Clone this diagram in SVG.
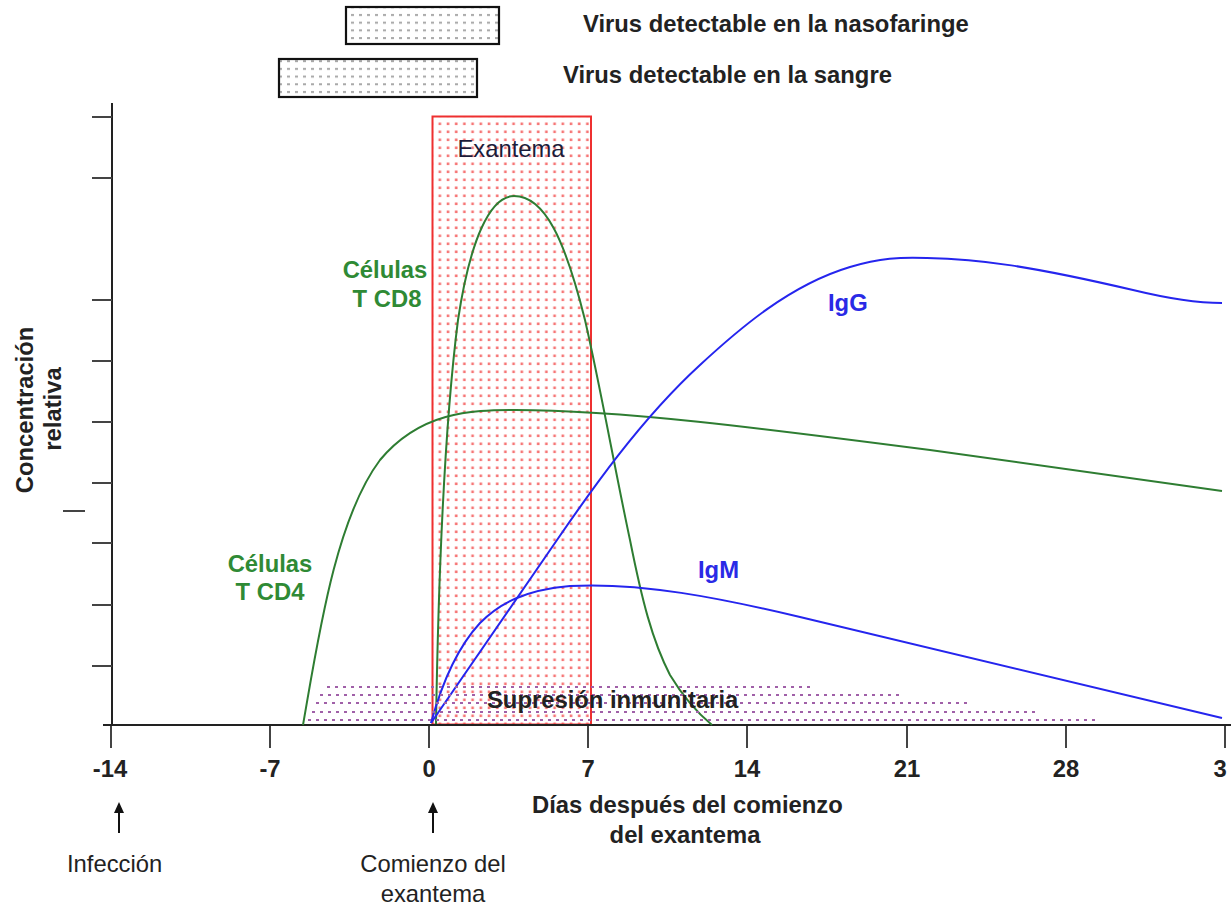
<svg xmlns="http://www.w3.org/2000/svg" width="1231" height="907" viewBox="0 0 1231 907">
<style>
.t{font-family:"Liberation Sans",Arial,sans-serif;font-size:23.8px;fill:#222}
.b{font-weight:bold}
.g{fill:#2f8a35}
.bl{fill:#2a2ae6}
.ax{stroke:#222;stroke-width:2;fill:none}
.tk{stroke:#444;stroke-width:2}
.cg{stroke:#2e7d32;stroke-width:2;fill:none}
.cb{stroke:#2525ee;stroke-width:2;fill:none}
.sup{stroke:#a060a8;stroke-width:2;stroke-dasharray:3 5;fill:none}
.arr{stroke:#111;stroke-width:2}
.ah{fill:#111}
</style>
<defs>
<pattern id="grey" patternUnits="userSpaceOnUse" x="349" y="12" width="8" height="7.7">
<rect x="2" y="2" width="3" height="2" fill="#a8a8a8"/>
</pattern>
<pattern id="red" patternUnits="userSpaceOnUse" x="436" y="120" width="8.2" height="8">
<rect x="2.5" y="2.5" width="2.6" height="2.6" fill="#f24848" fill-opacity="0.75"/>
</pattern>
</defs>
<rect width="1231" height="907" fill="#fff"/>

<g id="nasofaringe">
<rect x="346" y="7" width="153" height="37" fill="url(#grey)" stroke="#111" stroke-width="2.2"/>
<text class="t b" x="583" y="32">Virus detectable en la nasofaringe</text>
</g>
<g id="sangre">
<rect x="279" y="59" width="198" height="38" fill="url(#grey)" stroke="#111" stroke-width="2.2"/>
<text class="t b" x="563" y="83">Virus detectable en la sangre</text>
</g>

<g id="exantema">
<rect x="432.5" y="116.5" width="158.5" height="608" fill="url(#red)" stroke="#ee3030" stroke-width="2"/>
</g>

<g id="axes">
<line class="ax" x1="112" y1="103" x2="112" y2="726"/>
<line class="ax" x1="103" y1="725" x2="1231" y2="725"/>
<line class="tk" x1="92" y1="117" x2="112" y2="117"/>
<line class="tk" x1="92" y1="178" x2="112" y2="178"/>
<line class="tk" x1="92" y1="300" x2="112" y2="300"/>
<line class="tk" x1="92" y1="361" x2="112" y2="361"/>
<line class="tk" x1="92" y1="422" x2="112" y2="422"/>
<line class="tk" x1="92" y1="483" x2="112" y2="483"/>
<line class="tk" x1="92" y1="543" x2="112" y2="543"/>
<line class="tk" x1="92" y1="605" x2="112" y2="605"/>
<line class="tk" x1="92" y1="666" x2="112" y2="666"/>
<line class="tk" x1="63" y1="511" x2="85" y2="511"/>
<line class="tk" x1="111" y1="726" x2="111" y2="748"/>
<line class="tk" x1="270" y1="726" x2="270" y2="748"/>
<line class="tk" x1="429" y1="726" x2="429" y2="748"/>
<line class="tk" x1="588" y1="726" x2="588" y2="748"/>
<line class="tk" x1="747" y1="726" x2="747" y2="748"/>
<line class="tk" x1="907" y1="726" x2="907" y2="748"/>
<line class="tk" x1="1066" y1="726" x2="1066" y2="748"/>
<line class="tk" x1="1225" y1="726" x2="1225" y2="748"/>
</g>

<g id="curves">
<path class="cg" d="M303,725 C318,640 335,520 380,460 C420,412 470,410 515,410 C620,410 760,428 930,450 L1222,491"/>
<path class="cg" d="M436,724 C438,600 444,430 458,320 C470,240 490,196 514,196 C545,196 565,240 585,320 C600,385 615,470 630,540 C642,600 652,640 670,675 C685,700 700,715 712,725"/>
<path class="cb" d="M431,723 L557,540 C590,492 640,420 700,365 C740,328 790,285 850,267 C880,258 900,257 927,258 C980,259 1030,266 1133,290 C1170,299 1200,303 1222,303"/>
<path class="cb" d="M431,723 C440,690 455,650 480,623 C500,603 525,590 570,586 C640,582 720,598 800,617 L1222,718"/>
</g>

<g id="supresion">
<line class="sup" x1="327" y1="687" x2="812" y2="687"/>
<line class="sup" x1="320" y1="695" x2="900" y2="695"/>
<line class="sup" x1="316" y1="703" x2="970" y2="703"/>
<line class="sup" x1="312" y1="712" x2="1035" y2="712"/>
<line class="sup" x1="308" y1="720" x2="1095" y2="720"/>
<text class="t b" x="487" y="708" fill="#1a1a1a">Supresión inmunitaria</text>
</g>

<g id="labels">
<text class="t" x="511" y="157" text-anchor="middle" style="fill:#1c1c3a">Exantema</text>
<text class="t b g" x="385" y="278" text-anchor="middle">Células</text>
<text class="t b g" x="387" y="307" text-anchor="middle">T CD8</text>
<text class="t b g" x="270" y="572" text-anchor="middle">Células</text>
<text class="t b g" x="270" y="600" text-anchor="middle">T CD4</text>
<text class="t b bl" x="828" y="311">IgG</text>
<text class="t b bl" x="698" y="578">IgM</text>
<text class="t b" transform="translate(33,410) rotate(-90)" text-anchor="middle">Concentración</text>
<text class="t b" transform="translate(61,409) rotate(-90)" text-anchor="middle">relativa</text>
</g>

<g id="ticklabels">
<text class="t b" x="110" y="777" text-anchor="middle">-14</text>
<text class="t b" x="270" y="777" text-anchor="middle">-7</text>
<text class="t b" x="429" y="777" text-anchor="middle">0</text>
<text class="t b" x="588" y="777" text-anchor="middle">7</text>
<text class="t b" x="747" y="777" text-anchor="middle">14</text>
<text class="t b" x="907" y="777" text-anchor="middle">21</text>
<text class="t b" x="1066" y="777" text-anchor="middle">28</text>
<text class="t b" x="1220" y="777" text-anchor="middle">3</text>
<text class="t b" x="532" y="813">Días después del comienzo</text>
<text class="t b" x="685" y="843" text-anchor="middle">del exantema</text>
</g>

<g id="arrows">
<line class="arr" x1="119" y1="833" x2="119" y2="810"/>
<polygon class="ah" points="119,802 114,813 124,813"/>
<line class="arr" x1="433" y1="833" x2="433" y2="810"/>
<polygon class="ah" points="433,802 428,813 438,813"/>
</g>

<g id="events">
<text class="t" x="67" y="872">Infección</text>
<text class="t" x="433" y="872" text-anchor="middle">Comienzo del</text>
<text class="t" x="433" y="902" text-anchor="middle">exantema</text>
</g>
</svg>
